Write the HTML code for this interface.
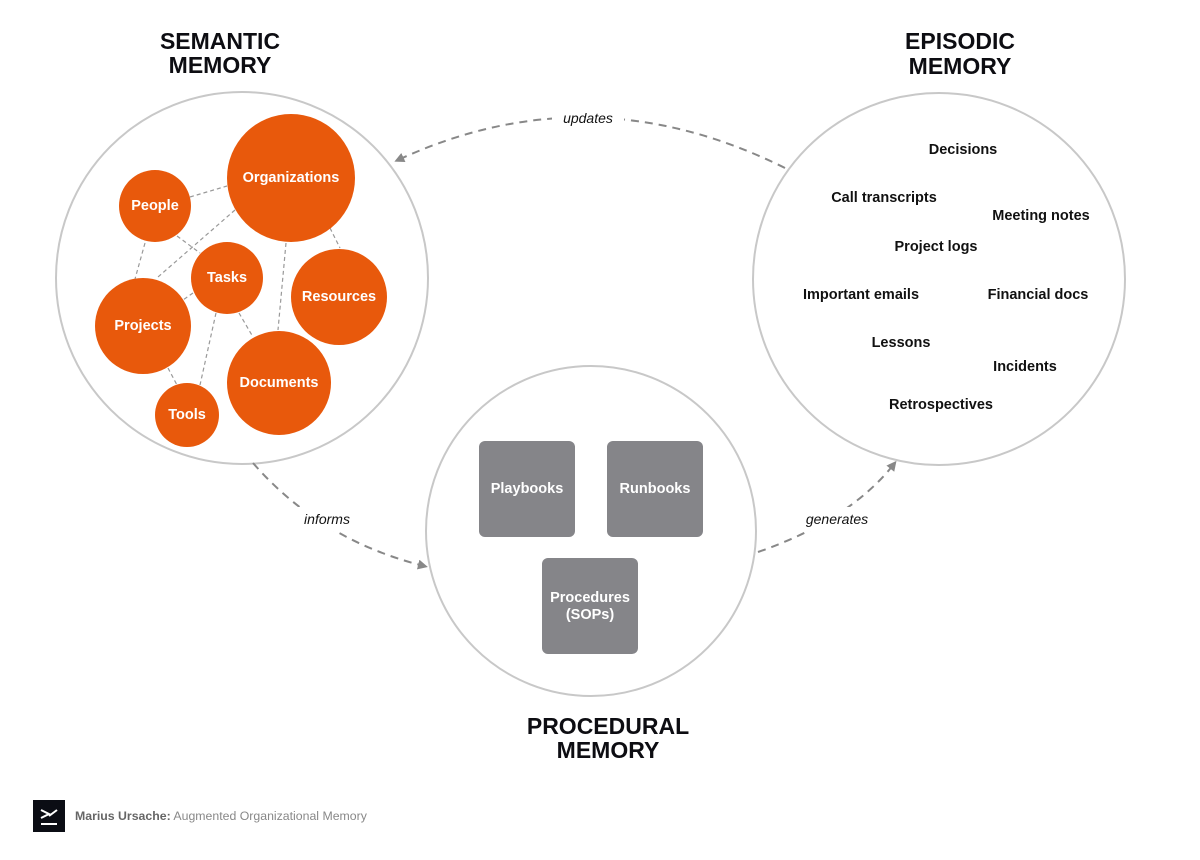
<!DOCTYPE html>
<html><head><meta charset="utf-8"><style>
html,body{margin:0;padding:0;background:#fff;}
svg{display:block;font-family:"Liberation Sans",sans-serif;}
.o{fill:#e8590c;}
.ol{fill:#fff;font-size:14.5px;font-weight:bold;text-anchor:middle;dominant-baseline:central;}
.el{fill:#111;font-size:14.5px;font-weight:bold;text-anchor:middle;dominant-baseline:central;}
.t{fill:#0d0d12;font-size:23px;font-weight:bold;text-anchor:middle;}
.lk{stroke:#999;stroke-width:1.2;stroke-dasharray:4,3;fill:none;}
.ar{stroke:#888;stroke-width:2;stroke-dasharray:8,6;fill:none;}
.al{fill:#111;font-size:14px;font-style:italic;text-anchor:middle;dominant-baseline:central;}
.bx{fill:#858589;}
</style></head><body>
<svg width="1200" height="860" viewBox="0 0 1200 860">
<defs><marker id="ah" markerWidth="10" markerHeight="10" refX="6" refY="5" orient="auto" markerUnits="userSpaceOnUse"><path d="M0,0 L10,5 L0,10 Z" fill="#888"/></marker></defs>
<text class="t" x="220" y="49">SEMANTIC</text>
<text class="t" x="220" y="73">MEMORY</text>
<text class="t" x="960" y="49">EPISODIC</text>
<text class="t" x="960" y="74">MEMORY</text>
<text class="t" x="608" y="734">PROCEDURAL</text>
<text class="t" x="608" y="758">MEMORY</text>

<circle cx="242" cy="278" r="186" fill="none" stroke="#c8c8c8" stroke-width="2"/>
<circle cx="939" cy="279" r="186" fill="none" stroke="#c8c8c8" stroke-width="2"/>
<circle cx="591" cy="531" r="165" fill="none" stroke="#c8c8c8" stroke-width="2"/>

<path class="ar" d="M785,168 Q590,71 398,160" marker-end="url(#ah)"/>
<rect x="552" y="106" width="72" height="24" fill="#fff"/>
<text class="al" x="588" y="118">updates</text>
<path class="ar" d="M253,463 Q320,540 424,566" marker-end="url(#ah)"/>
<rect x="292" y="507" width="70" height="24" fill="#fff"/>
<text class="al" x="327" y="519">informs</text>
<path class="ar" d="M758,552 Q850,520 894,464" marker-end="url(#ah)"/>
<rect x="796" y="507" width="82" height="24" fill="#fff"/>
<text class="al" x="837" y="519">generates</text>

<line class="lk" x1="190" y1="197" x2="227" y2="186"/>
<line class="lk" x1="235" y1="210" x2="158" y2="277"/>
<line class="lk" x1="177" y1="236" x2="200" y2="253"/>
<line class="lk" x1="145" y1="243" x2="135" y2="279"/>
<line class="lk" x1="193" y1="293" x2="183" y2="300"/>
<line class="lk" x1="286" y1="243" x2="278" y2="330"/>
<line class="lk" x1="330" y1="228" x2="340" y2="248"/>
<line class="lk" x1="216" y1="313" x2="200" y2="385"/>
<line class="lk" x1="239" y1="313" x2="253" y2="337"/>
<line class="lk" x1="168" y1="368" x2="177" y2="385"/>

<circle class="o" cx="291" cy="178" r="64"/><text class="ol" x="291" y="178">Organizations</text>
<circle class="o" cx="155" cy="206" r="36"/><text class="ol" x="155" y="206">People</text>
<circle class="o" cx="227" cy="278" r="36"/><text class="ol" x="227" y="278">Tasks</text>
<circle class="o" cx="339" cy="297" r="48"/><text class="ol" x="339" y="297">Resources</text>
<circle class="o" cx="143" cy="326" r="48"/><text class="ol" x="143" y="326">Projects</text>
<circle class="o" cx="279" cy="383" r="52"/><text class="ol" x="279" y="383">Documents</text>
<circle class="o" cx="187" cy="415" r="32"/><text class="ol" x="187" y="415">Tools</text>

<text class="el" x="963" y="150">Decisions</text>
<text class="el" x="884" y="198">Call transcripts</text>
<text class="el" x="1041" y="216">Meeting notes</text>
<text class="el" x="936" y="247">Project logs</text>
<text class="el" x="861" y="295">Important emails</text>
<text class="el" x="1038" y="295">Financial docs</text>
<text class="el" x="901" y="343">Lessons</text>
<text class="el" x="1025" y="367">Incidents</text>
<text class="el" x="941" y="405">Retrospectives</text>

<rect class="bx" x="479" y="441" width="96" height="96" rx="6"/><text class="ol" x="527" y="489">Playbooks</text>
<rect class="bx" x="607" y="441" width="96" height="96" rx="6"/><text class="ol" x="655" y="489">Runbooks</text>
<rect class="bx" x="542" y="558" width="96" height="96" rx="6"/><text class="ol" x="590" y="598">Procedures</text><text class="ol" x="590" y="615">(SOPs)</text>

<rect x="33" y="800" width="32" height="32" fill="#0b0d14"/>
<path d="M41,810 L49,814 L41,818" stroke="#fff" stroke-width="2" fill="none"/>
<line x1="49" y1="816" x2="57" y2="810" stroke="#fff" stroke-width="2"/>
<line x1="41" y1="824" x2="57" y2="824" stroke="#fff" stroke-width="2"/>
<text x="75" y="820" font-size="12.3px" fill="#888"><tspan font-weight="bold" fill="#666">Marius Ursache:</tspan> Augmented Organizational Memory</text>
</svg>
</body></html>
